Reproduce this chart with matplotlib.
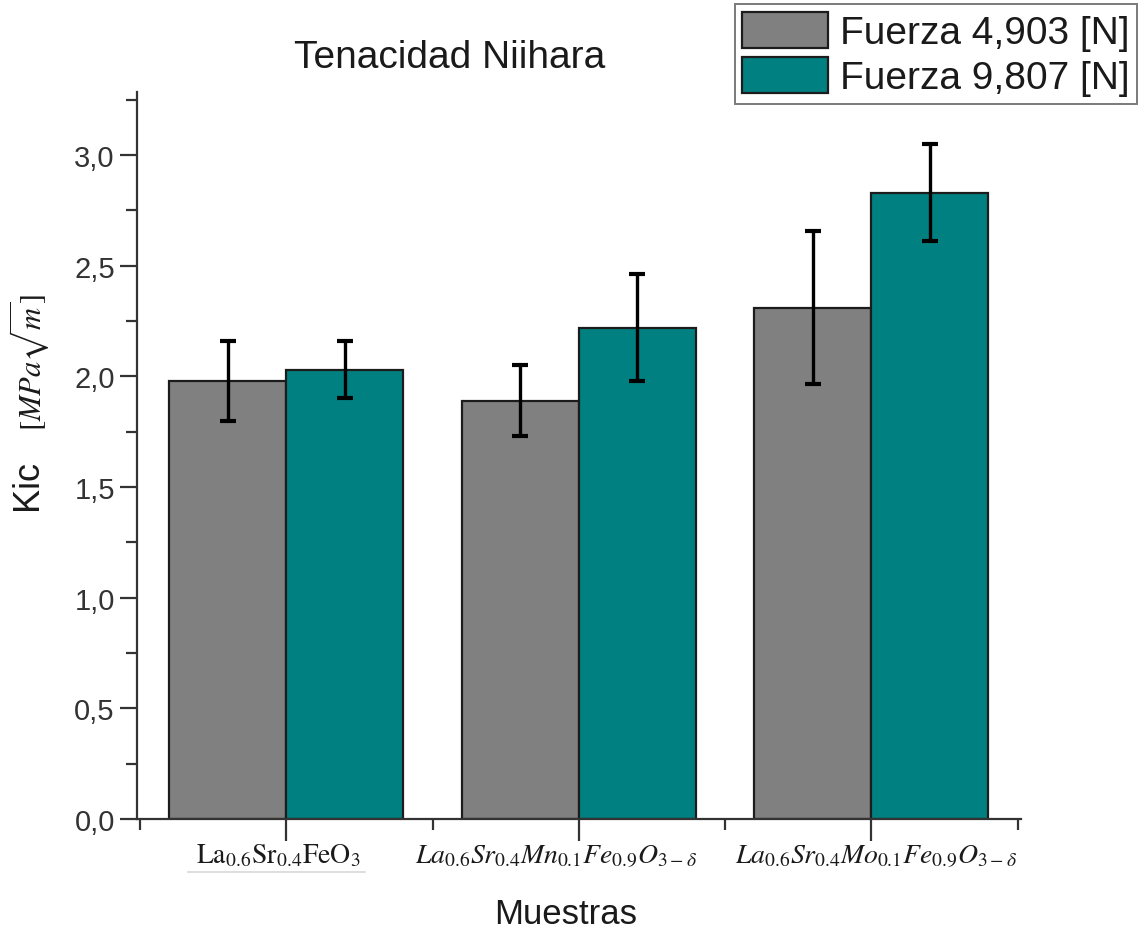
import matplotlib

matplotlib.use("Agg")

import matplotlib.pyplot as plt
import numpy as np
from matplotlib.lines import Line2D
from matplotlib.ticker import MultipleLocator, FuncFormatter

plt.rcParams["font.family"] = ["Liberation Sans", "DejaVu Sans"]
plt.rcParams["mathtext.fontset"] = "stix"

# ---- data
muestras = [
    r"$\mathrm{La_{0.6}Sr_{0.4}FeO_3}$",
    r"$La_{0.6}Sr_{0.4}Mn_{0.1}Fe_{0.9}O_{3-\delta}$",
    r"$La_{0.6}Sr_{0.4}Mo_{0.1}Fe_{0.9}O_{3-\delta}$",
]
series = ["Fuerza 4,903 [N]", "Fuerza 9,807 [N]"]
kic_4903 = [1.98, 1.89, 2.31]
err_4903 = [0.18, 0.16, 0.345]
kic_9807 = [2.03, 2.22, 2.83]
err_9807 = [0.13, 0.24, 0.22]

GRAY, TEAL, EDGE, AXC = "#808080", "#008080", "#1c1c1c", "#333333"

fig = plt.figure(figsize=(11.45, 9.37), dpi=100)
ax = fig.add_axes([0.1197, 0.1249, 0.7716, 0.7760])

x = np.arange(1, len(muestras) + 1)
w = 0.4
ekw = dict(ecolor="black", elinewidth=2.4, capsize=6, capthick=3)
ax.bar(x - w / 2, kic_4903, w, color=GRAY, edgecolor=EDGE, linewidth=1.6,
       yerr=err_4903, error_kw=ekw, label=series[0], zorder=2)
ax.bar(x + w / 2, kic_9807, w, color=TEAL, edgecolor=EDGE, linewidth=1.6,
       yerr=err_9807, error_kw=ekw, label=series[1], zorder=2)

ax.set_xlim(0.49, 3.51)
ax.set_ylim(0, 3.285)

for s in ("top", "right"):
    ax.spines[s].set_visible(False)
for s in ("left", "bottom"):
    ax.spines[s].set_color(AXC)
    ax.spines[s].set_linewidth(1.6)

ax.yaxis.set_major_locator(MultipleLocator(0.5))
ax.yaxis.set_minor_locator(MultipleLocator(0.25))
ax.yaxis.set_major_formatter(FuncFormatter(lambda v, p: f"{v:.1f}".replace(".", ",")))
ax.set_xticks(x)
ax.set_xticklabels([])
ax.set_xticks([0.5, 1.5, 2.5, 3.5], minor=True)

# sample names, nudged a little off their ticks
for xi, name, dx in zip(x, muestras, [-8, -23, 5]):
    ax.annotate(name, xy=(xi, 0), xycoords=("data", "axes fraction"),
                xytext=(dx, -43), textcoords="offset pixels",
                ha="center", va="baseline", fontsize=20, color="#1a1a1a")

ax.tick_params(axis="y", which="major", direction="out", length=12, width=1.6,
               color=AXC, labelsize=21, labelcolor=AXC, pad=4)
ax.tick_params(axis="y", which="minor", direction="out", length=8, width=1.6, color=AXC)
ax.tick_params(axis="x", which="major", direction="out", length=16, width=1.6, color=AXC)
ax.tick_params(axis="x", which="minor", direction="out", length=8, width=1.6, color=AXC)

# faint rule under the first sample label
fig.add_artist(Line2D([188 / 1145, 365 / 1145], [1 - 873 / 937] * 2,
                      color="#d8d8d8", lw=1.2))

fig.text(450 / 1145, 1 - 58 / 937, "Tenacidad Niihara", fontsize=28, color="#1a1a1a",
         ha="center", va="center")
fig.text(566 / 1145, 1 - 915 / 937, "Muestras", fontsize=25, color="#1a1a1a",
         ha="center", va="center")
fig.text(28 / 1145, 1 - 485 / 937, "Kic", fontsize=26, color="#1a1a1a",
         rotation=90, ha="center", va="center")
fig.text(29 / 1145, 1 - 363 / 937, r"$[MPa\sqrt{m}]$", fontsize=22, color="#1a1a1a",
         rotation=90, ha="center", va="center")

leg = fig.legend(loc="upper right", bbox_to_anchor=(1137 / 1145, 1 - 5 / 937),
                 fontsize=28, frameon=True, fancybox=False, edgecolor="#7a7a7a",
                 framealpha=1, handlelength=2.2, handleheight=1.05,
                 handletextpad=0.3, labelspacing=0.15, borderpad=0.2,
                 borderaxespad=0)
leg.get_frame().set_linewidth(1.4)
for t in leg.get_texts():
    t.set_color("#1a1a1a")

fig.savefig("out.png", dpi=100, facecolor="white")
